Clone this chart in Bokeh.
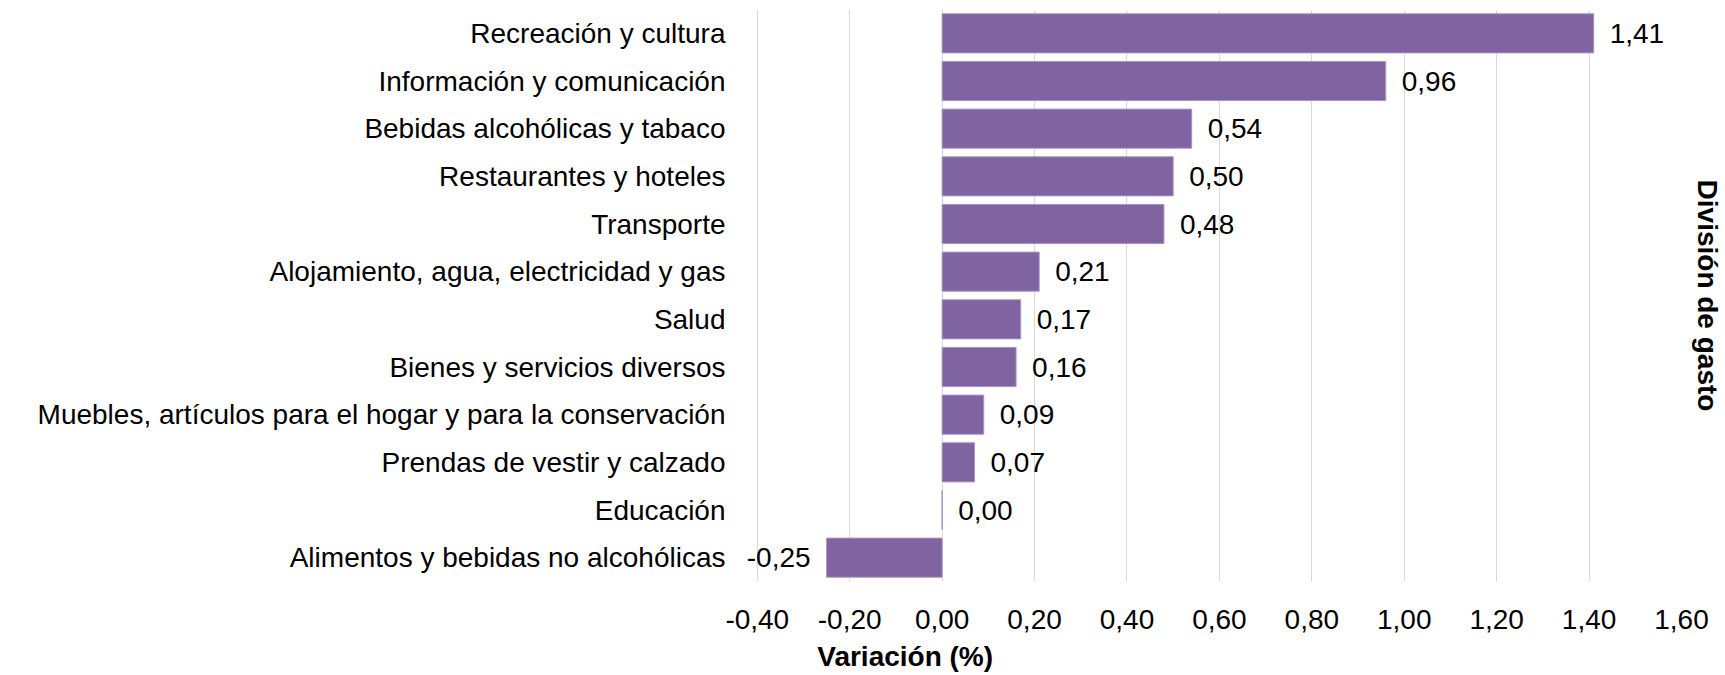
from bokeh.plotting import figure
from bokeh.models import (ColumnDataSource, FactorRange, Range1d, FixedTicker,
                          CustomJSTickFormatter, LinearAxis, LabelSet)
from bokeh.core.properties import value
from bokeh.embed import file_html
from bokeh.resources import INLINE

categories = [
    "Recreación y cultura",
    "Información y comunicación",
    "Bebidas alcohólicas y tabaco",
    "Restaurantes y hoteles",
    "Transporte",
    "Alojamiento, agua, electricidad y gas",
    "Salud",
    "Bienes y servicios diversos",
    "Muebles, artículos para el hogar y para la conservación",
    "Prendas de vestir y calzado",
    "Educación",
    "Alimentos y bebidas no alcohólicas",
]
values = [1.41, 0.96, 0.54, 0.50, 0.48, 0.21, 0.17, 0.16, 0.09, 0.07, 0.00, -0.25]
x_ticks = [-0.4, -0.2, 0.0, 0.2, 0.4, 0.6, 0.8, 1.0, 1.2, 1.4, 1.6]
x_title = "Variación (%)"
y_title = "División de gasto"

FONT = "Liberation Sans"
FS = "28px"

def fmt(v):
    return f"{v:.2f}".replace(".", ",")

source = ColumnDataSource(dict(cat=categories, val=values))
pos = [(c, v) for c, v in zip(categories, values) if v >= 0]
neg = [(c, v) for c, v in zip(categories, values) if v < 0]
src_pos = ColumnDataSource(dict(cat=[c for c, _ in pos], val=[v for _, v in pos],
                                lab=[fmt(v) for _, v in pos]))
src_neg = ColumnDataSource(dict(cat=[c for c, _ in neg], val=[v for _, v in neg],
                                lab=[fmt(v) for _, v in neg]))

# the frame reaches a little left of -0.40 so the "-0,25" label is not clipped
X_MIN, X_MAX = -0.445, 1.6

p = figure(
    width=1725, height=675,
    y_range=FactorRange(factors=list(reversed(categories)), range_padding=0),
    x_range=Range1d(X_MIN, X_MAX),
    output_backend="svg", toolbar_location=None,
    min_border_left=736, min_border_right=0, min_border_top=9, min_border_bottom=94,
)
p.outline_line_color = None
p.background_fill_color = "white"
p.border_fill_color = "white"

p.hbar(y="cat", right="val", left=0, height=0.82, source=source,
       fill_color="#8064A2", line_color="#A893C4", line_width=1)

p.add_layout(LabelSet(x="val", y="cat", text="lab", source=src_pos,
                      text_align="left", x_offset=16, text_baseline="middle",
                      text_font=value(FONT), text_font_size=FS, text_color="#000000"))
p.add_layout(LabelSet(x="val", y="cat", text="lab", source=src_neg,
                      text_align="right", x_offset=-16, text_baseline="middle",
                      text_font=value(FONT), text_font_size=FS, text_color="#000000"))

# x axis
xa = p.xaxis[0]
xa.ticker = FixedTicker(ticks=x_ticks)
xa.formatter = CustomJSTickFormatter(code="return tick.toFixed(2).replace('.', ',');")
xa.axis_line_color = None
xa.major_tick_line_color = None
xa.minor_tick_line_color = None
xa.major_label_text_font = FONT
xa.major_label_text_font_size = FS
xa.major_label_text_color = "#000000"
xa.major_label_standoff = 22

# x axis title: second bottom axis carrying one bold label, left of centre as in the reference
TITLE_X = -0.08
xt = LinearAxis(
    ticker=FixedTicker(ticks=[TITLE_X]),
    major_label_overrides={TITLE_X: x_title},
    axis_line_color=None, major_tick_line_color=None, minor_tick_line_color=None,
    major_label_text_font=FONT, major_label_text_font_size=FS,
    major_label_text_font_style="bold", major_label_text_color="#000000",
    major_label_standoff=3,
)
p.add_layout(xt, "below")

# y axis
ya = p.yaxis[0]
ya.axis_line_color = None
ya.major_tick_line_color = None
ya.minor_tick_line_color = None
ya.major_label_text_font = FONT
ya.major_label_text_font_size = FS
ya.major_label_text_color = "#000000"
ya.major_label_standoff = 5

# right axis title
ra = LinearAxis(
    ticker=FixedTicker(ticks=[]),
    axis_label=y_title,
    axis_label_text_font=FONT, axis_label_text_font_size=FS,
    axis_label_text_font_style="bold", axis_label_text_color="#000000",
    axis_label_standoff=10,
    axis_line_color=None, major_tick_line_color=None, minor_tick_line_color=None,
    major_label_standoff=0,
)
p.add_layout(ra, "right")

p.xgrid.grid_line_color = "#D9D9D9"
p.xgrid.grid_line_width = 1
p.xgrid.ticker = FixedTicker(ticks=x_ticks)
p.ygrid.grid_line_color = None

open("out.html", "w").write(file_html(p, INLINE))
